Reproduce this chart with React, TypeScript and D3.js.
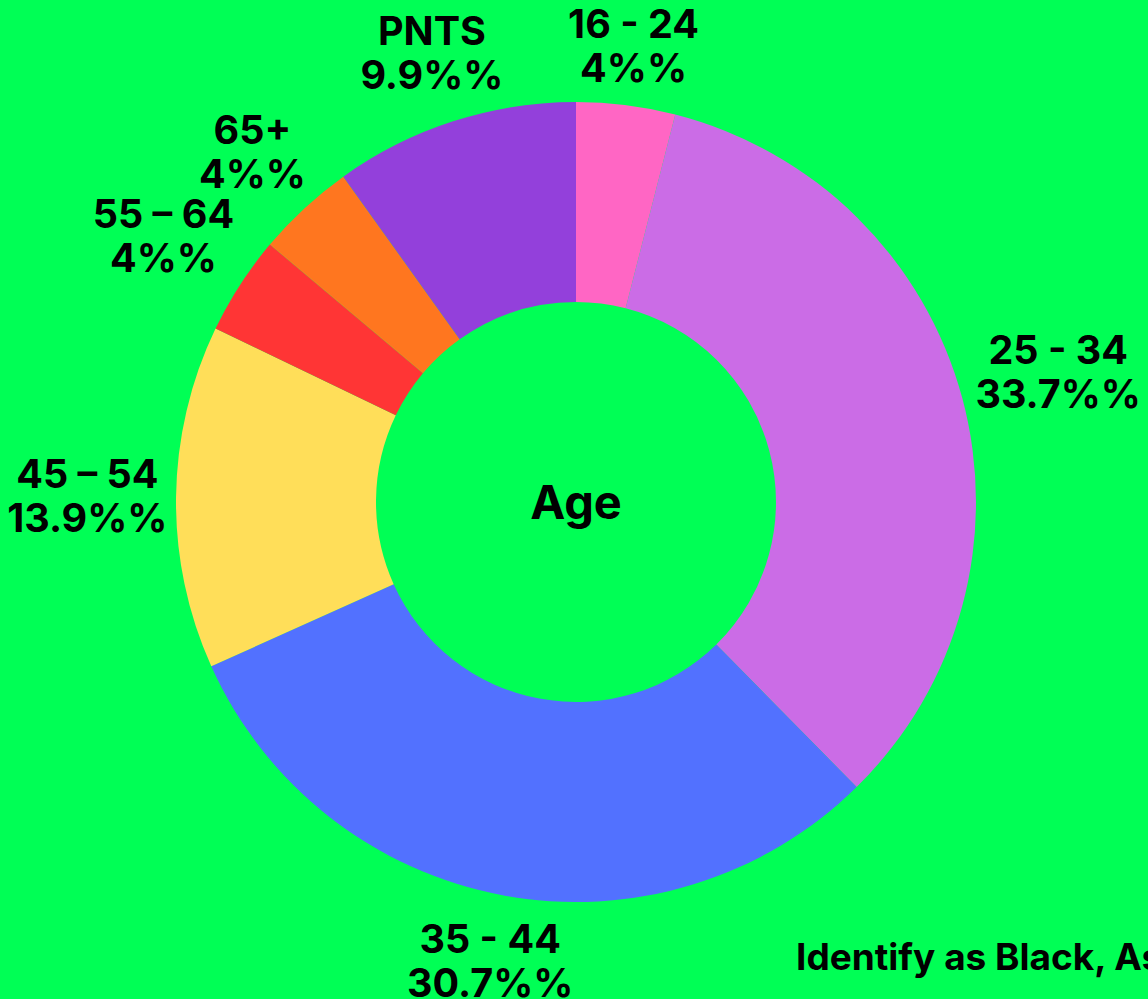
import { useEffect, useRef } from "react";
import * as d3 from "d3";

const categories = ["16 - 24", "25 - 34", "35 - 44", "45 \u2013 54", "55 \u2013 64", "65+", "PNTS"];
const values = [4, 33.7, 30.7, 13.9, 4, 4, 9.9];
const colors = ["#FF66C4", "#CB6CE6", "#5271FF", "#FFDE59", "#FF3535", "#FF761F", "#9340DB"];
const centerLabel = "Age";
const nextTitle = "Identify as Black, Asian, Mixed or other ethnic minority";

export default function App() {
  const svgRef = useRef<SVGSVGElement | null>(null);

  useEffect(() => {
    if (!svgRef.current) return;
    const width = 1148;
    const height = 999;
    const cx = 576;
    const cy = 502;
    const outer = 400;
    const inner = 200;
    const fontSize = 39.5;
    const lineH = 44;
    const font = "Inter, 'Noto Sans', sans-serif";

    const svg = d3.select(svgRef.current);
    svg.selectAll("*").remove();
    svg.attr("width", width).attr("height", height);

    svg.append("rect").attr("width", width).attr("height", height).attr("fill", "#00FF55");

    const data = categories.map((c, i) => ({ label: c, value: values[i], color: colors[i] }));
    const pie = d3.pie<any>().value((d) => d.value).sort(null);
    const arc = d3.arc<any>().innerRadius(inner).outerRadius(outer);
    const arcs = pie(data);

    const g = svg.append("g").attr("transform", `translate(${cx},${cy})`);
    g.selectAll("path")
      .data(arcs)
      .enter()
      .append("path")
      .attr("d", arc)
      .attr("fill", (d) => d.data.color);

    // labels placed just outside the ring, pushed out by their own box size
    const labelR = outer + 8;
    arcs.forEach((d) => {
      const a = (d.startAngle + d.endAngle) / 2;
      const vx = Math.sin(a);
      const vy = -Math.cos(a);
      const t = g
        .append("text")
        .attr("text-anchor", "middle")
        .attr("font-family", font)
        .attr("font-weight", 700)
        .attr("font-size", fontSize)
        .attr("fill", "#000");
      t.append("tspan").attr("x", 0).attr("dy", 0).text(d.data.label);
      t.append("tspan").attr("x", 0).attr("dy", lineH).text(`${d.data.value}%%`);
      const w = Math.max(
        ...(t.selectAll("tspan").nodes() as SVGTSpanElement[]).map((n) => n.getComputedTextLength())
      );
      const h = lineH * 2;
      const off = Math.abs(vx) * w / 2 + Math.abs(vy) * h / 2;
      const px = vx * (labelR + off);
      const py = vy * (labelR + off);
      // vertical centre of the two-line block, baseline of first line
      t.attr("transform", `translate(${px},${py - lineH / 2 + fontSize * 0.36})`);
    });

    g.append("text")
      .attr("text-anchor", "middle")
      .attr("dy", "0.36em")
      .attr("font-family", font)
      .attr("font-weight", 700)
      .attr("font-size", 47)
      .attr("fill", "#000")
      .text(centerLabel);

    svg.append("text")
      .attr("x", 796)
      .attr("y", 970)
      .attr("font-family", font)
      .attr("font-weight", 700)
      .attr("font-size", 37)
      .attr("fill", "#000")
      .text(nextTitle);
  }, []);

  return (
    <div style={{ position: "absolute", left: 0, top: 0, width: 1148, height: 999, overflow: "hidden" }}>
      <svg ref={svgRef} style={{ display: "block" }}></svg>
    </div>
  );
}
